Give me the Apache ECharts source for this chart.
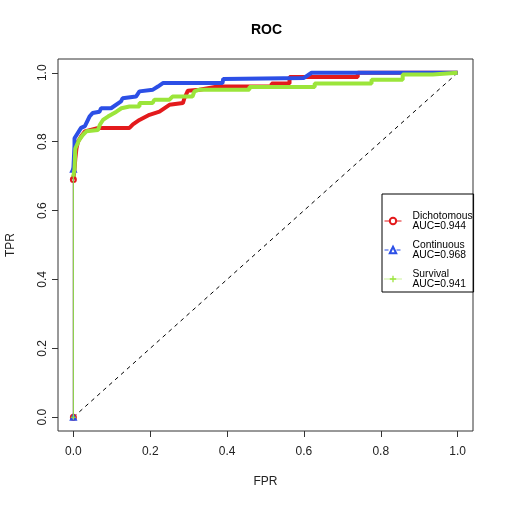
<!DOCTYPE html>
<html><head><meta charset="utf-8">
<script src="https://cdn.jsdelivr.net/npm/echarts@6/dist/echarts.min.js"></script>
<style>html,body{margin:0;padding:0;background:#fff}#c{width:505px;height:505px}</style>
</head><body><div id="c"></div>
<script>
// ---- data ----
const curveNames = ['Dichotomous\nAUC=0.944', 'Continuous\nAUC=0.968', 'Survival\nAUC=0.941'];

const redFpr = [0, 0, 0.003, 0.005, 0.008, 0.012, 0.02, 0.03, 0.065, 0.146, 0.155, 0.172, 0.198, 0.224, 0.25, 0.285, 0.289, 0.298, 0.328, 0.376, 0.516, 0.516, 0.5625, 0.5625, 0.74, 0.74, 1.0];
const redTpr = [0, 0.69, 0.72, 0.75, 0.78, 0.80, 0.815, 0.83, 0.84, 0.84, 0.85, 0.863, 0.878, 0.887, 0.907, 0.912, 0.926, 0.948, 0.951, 0.96, 0.96, 0.969, 0.969, 0.988, 0.988, 1.0, 1.0];

const blueFpr = [0, 0, 0.003, 0.003, 0.02, 0.03, 0.042, 0.05, 0.068, 0.072, 0.098, 0.124, 0.128, 0.163, 0.172, 0.207, 0.22, 0.233, 0.388, 0.39, 0.60, 0.62, 0.935, 1.0];
const blueTpr = [0, 0.72, 0.79, 0.81, 0.84, 0.845, 0.873, 0.883, 0.887, 0.897, 0.897, 0.917, 0.926, 0.931, 0.946, 0.951, 0.96, 0.97, 0.97, 0.982, 0.985, 1.0, 1.0, 1.0];

const greenFpr = [0, 0, 0.003, 0.005, 0.015, 0.025, 0.034, 0.064, 0.069, 0.077, 0.09, 0.112, 0.125, 0.146, 0.172, 0.172, 0.206, 0.211, 0.25, 0.258, 0.31, 0.315, 0.328, 0.458, 0.458, 0.628, 0.628, 0.776, 0.776, 0.857, 0.857, 0.935, 0.935, 1.0];
const greenTpr = [0, 0.70, 0.72, 0.78, 0.805, 0.82, 0.83, 0.834, 0.849, 0.863, 0.873, 0.887, 0.897, 0.902, 0.902, 0.912, 0.912, 0.922, 0.922, 0.931, 0.931, 0.946, 0.951, 0.951, 0.959, 0.959, 0.969, 0.969, 0.98, 0.98, 0.995, 0.995, 1.0, 1.0];

const diagFpr = [0, 1];
const diagTpr = [0, 1];

const tickValues = [0, 0.2, 0.4, 0.6, 0.8, 1.0];

// ---- chart ----
const FONT = '"Liberation Sans", Arial, Helvetica, sans-serif';
const plusPath = 'path://M4,0h2v4h4v2h-4v4h-2v-4h-4v-2h4z';
const zip = (xs, ys) => xs.map((x, i) => [x, ys[i]]);

const curves = [
  {name: curveNames[0], fpr: redFpr, tpr: redTpr, color: '#e31a1c', symbol: 'emptyCircle', legendLine: 'solid'},
  {name: curveNames[1], fpr: blueFpr, tpr: blueTpr, color: '#2c4fe6', symbol: 'emptyTriangle', legendLine: 'dashed'},
  {name: curveNames[2], fpr: greenFpr, tpr: greenTpr, color: '#9be53a', symbol: plusPath, legendLine: 'dotted'}
];

const series = [{
  type: 'line', name: 'diag', data: zip(diagFpr, diagTpr),
  symbol: 'none', lineStyle: {color: '#000', width: 1, type: [4, 4]}, z: 1, silent: true, clip: false
}];
curves.forEach((c, k) => {
  const pts = zip(c.fpr, c.tpr);
  series.push({
    type: 'line', name: c.name, data: pts.slice(1),
    symbol: c.symbol, showSymbol: false, clip: false,
    lineStyle: {color: c.color, width: 4}, itemStyle: {color: c.color},
    z: 3 + k, silent: true
  });
  series.push({
    type: 'line', name: c.name, data: pts.slice(0, 2),
    symbol: c.symbol, symbolSize: 5, showSymbol: true, clip: false,
    lineStyle: {color: c.color, width: 1}, itemStyle: {color: c.color, borderWidth: 1},
    z: 2 + k, silent: true
  });
});

const chart = echarts.init(document.getElementById('c'), null, {renderer: 'canvas'});
chart.setOption({
  animation: false,
  backgroundColor: '#fff',
  title: {
    text: 'ROC', left: 246, top: 18,
    textStyle: {fontSize: 14, fontWeight: 'bold', fontFamily: FONT, color: '#000'}
  },
  grid: {left: 58, top: 59, width: 415, height: 372, show: true, borderColor: '#333', borderWidth: 1,
         backgroundColor: 'transparent', containLabel: false, outerBoundsMode: 'none'},
  xAxis: {
    type: 'value', min: -0.04, max: 1.04,
    axisLine: {show: false, onZero: false}, splitLine: {show: false},
    axisTick: {show: true, inside: false, length: 6, lineStyle: {color: '#333'}, customValues: tickValues},
    axisLabel: {customValues: tickValues, formatter: v => v.toFixed(1), margin: 15, fontSize: 12, color: '#222', fontFamily: FONT},
    name: 'FPR', nameLocation: 'middle', nameGap: 45,
    nameTextStyle: {fontSize: 12, color: '#222', fontFamily: FONT}
  },
  yAxis: {
    type: 'value', min: -0.04, max: 1.04,
    axisLine: {show: false, onZero: false}, splitLine: {show: false},
    axisTick: {show: true, inside: false, length: 6, lineStyle: {color: '#333'}, customValues: tickValues},
    axisLabel: {customValues: tickValues, formatter: v => v.toFixed(1), rotate: 90, margin: 9, fontSize: 12, color: '#222', fontFamily: FONT},
    name: 'TPR', nameLocation: 'middle', nameGap: 41, nameRotate: 90,
    nameTextStyle: {fontSize: 12, color: '#222', fontFamily: FONT}
  },
  legend: {
    orient: 'vertical', left: 382, top: 194,
    padding: [14, 1, 0, 2], itemGap: 3, itemWidth: 17, itemHeight: 8,
    borderColor: '#000', borderWidth: 1, borderRadius: 0,
    selectedMode: false,
    textStyle: {fontSize: 10.3, lineHeight: 10, color: '#000', fontFamily: FONT, padding: [0, 0, 6, 6]},
    data: curves.map(c => ({
      name: c.name,
      lineStyle: {width: 1, type: c.legendLine, color: c.color},
      itemStyle: {color: c.color, borderWidth: 1}
    }))
  },
  series: series
});
</script>
</body></html>
